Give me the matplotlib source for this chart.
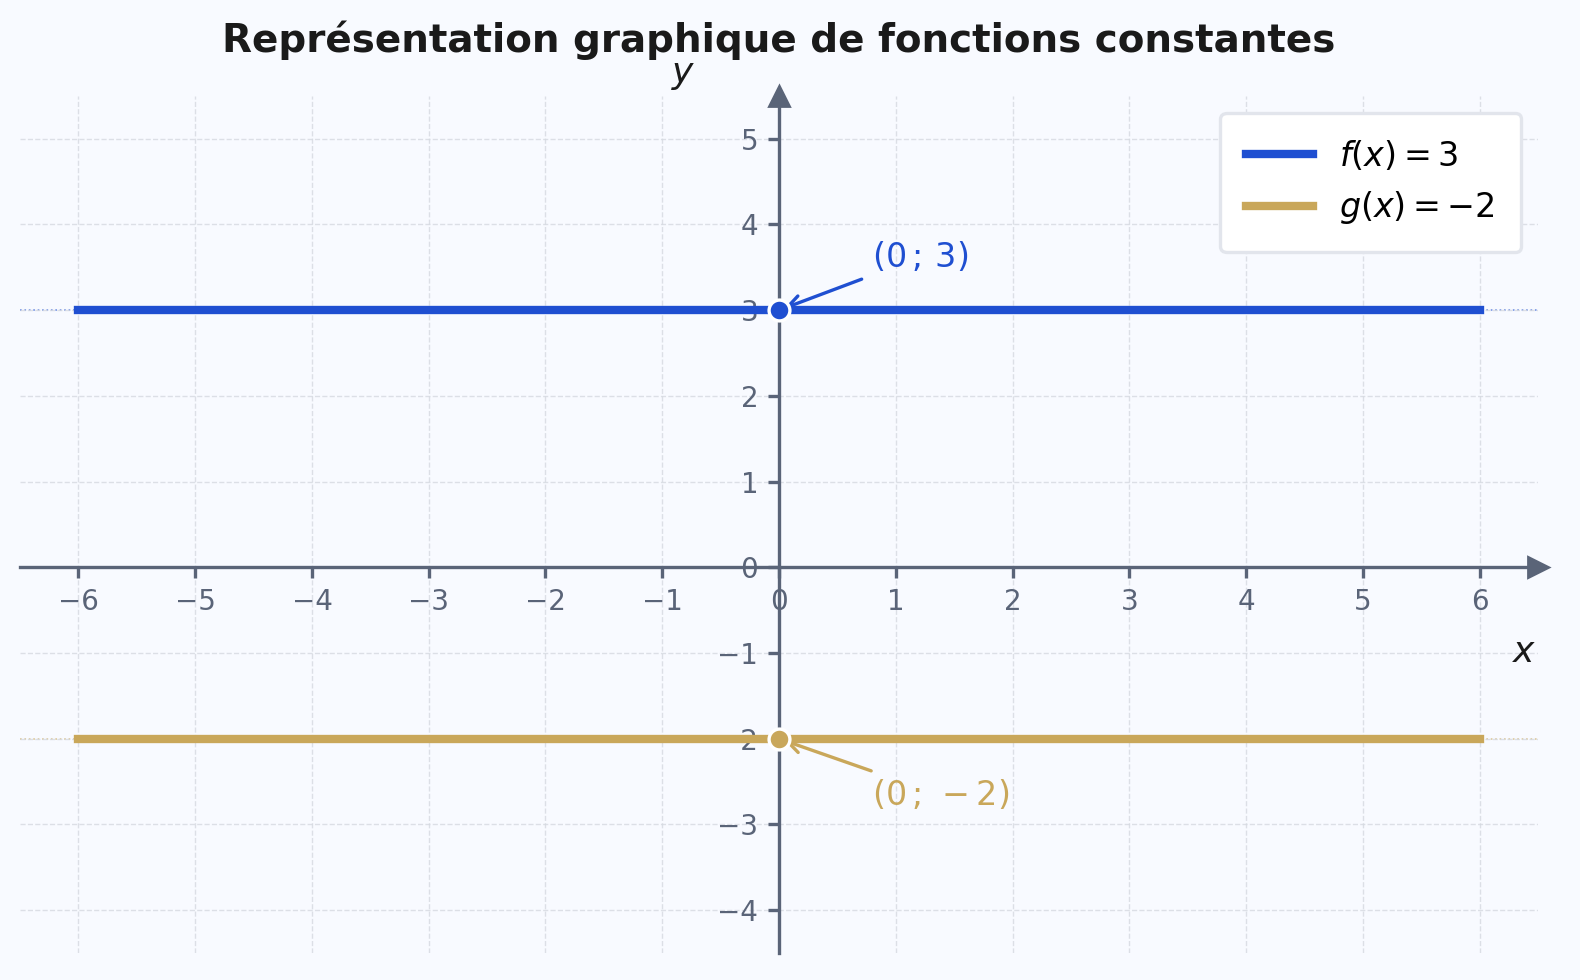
import numpy as np
import matplotlib
matplotlib.use("Agg")
import matplotlib.pyplot as plt

# constant functions
x_range = [-6, 6]
f_value = 3
g_value = -2
f_label = r"$f(x) = 3$"
g_label = r"$g(x) = -2$"
f_point_label = r"$(0\,;\,3)$"
g_point_label = r"$(0\,;\,-2)$"
x_ticks = list(range(-6, 7))
y_ticks = list(range(-4, 6))

blue = "#1f4fd1"
gold = "#c9a75a"
axis_col = "#5a6478"
bg = "#f8faff"

fig = plt.figure(figsize=(7.9, 4.9), dpi=200, facecolor=bg)
ax = fig.add_axes([0.0127, 0.0276, 0.9607, 0.8745])
ax.set_facecolor(bg)

x = np.array(x_range)
ax.plot(x, [f_value] * 2, color=blue, lw=3, label=f_label, zorder=3)
ax.plot(x, [g_value] * 2, color=gold, lw=3, label=g_label, zorder=3)
ax.axhline(f_value, color=blue, ls=":", lw=0.6, alpha=0.6, zorder=1)
ax.axhline(g_value, color=gold, ls=":", lw=0.6, alpha=0.6, zorder=1)

ax.plot(0, f_value, "o", color=blue, ms=7.5, mec="white", mew=1.2, zorder=5)
ax.plot(0, g_value, "o", color=gold, ms=7.5, mec="white", mew=1.2, zorder=5)

ax.annotate(f_point_label, xy=(0, f_value), xytext=(0.8, 3.62), color=blue,
            fontsize=12, va="center", ha="left",
            arrowprops=dict(arrowstyle="->", color=blue, lw=1.2))
ax.annotate(g_point_label, xy=(0, g_value), xytext=(0.8, -2.66), color=gold,
            fontsize=12, va="center", ha="left",
            arrowprops=dict(arrowstyle="->", color=gold, lw=1.2))

ax.set_xlim(-6.5, 6.5)
ax.set_ylim(-4.5, 5.5)
ax.set_xticks(x_ticks)
ax.set_yticks(y_ticks)
ax.grid(True, ls="--", lw=0.5, color="#d5d9e0", alpha=0.8)

for side in ["top", "right"]:
    ax.spines[side].set_visible(False)
for side in ["left", "bottom"]:
    ax.spines[side].set_position(("data", 0))
    ax.spines[side].set_color(axis_col)
    ax.spines[side].set_linewidth(1.2)
ax.tick_params(colors=axis_col, labelsize=10, width=1.2, length=4)

ax.plot(1, 0, ">", color=axis_col, ms=7, transform=ax.get_yaxis_transform(), clip_on=False)
ax.plot(0, 1, "^", color=axis_col, ms=7, transform=ax.get_xaxis_transform(), clip_on=False)

ax.text(0.991, 0.351, r"$x$", transform=ax.transAxes, fontsize=13, ha="center", va="center", color="#1a1a1a")
ax.text(0.437, 1.024, r"$y$", transform=ax.transAxes, fontsize=13, ha="center", va="center", color="#1a1a1a")

leg = ax.legend(loc="upper right", fontsize=12, frameon=True, fancybox=True,
                borderpad=0.78, handlelength=2.0, labelspacing=0.5)
leg.get_frame().set_facecolor("white")
leg.get_frame().set_edgecolor("#e2e5ec")
leg.get_frame().set_linewidth(1.2)
leg.get_frame().set_alpha(1)

fig.text(0.493, 0.959, "Représentation graphique de fonctions constantes",
         fontsize=14, fontweight="bold", ha="center", va="center", color="#1a1a1a")

fig.savefig("out.png", dpi=200, facecolor=bg)
